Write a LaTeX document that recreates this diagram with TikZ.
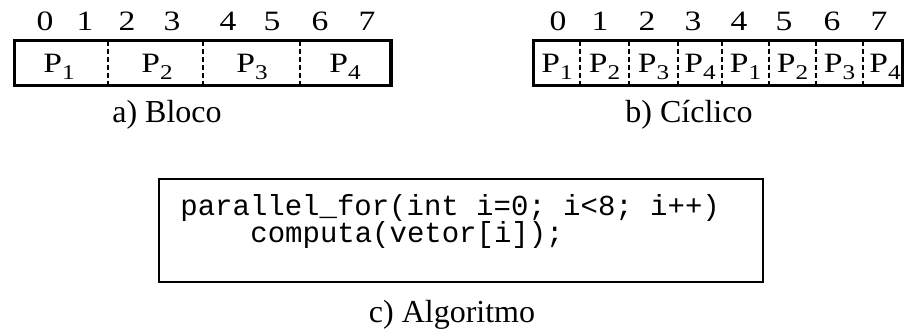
\documentclass[tikz,border=0pt]{standalone}
\usepackage{fontspec}
\setmainfont{Liberation Serif}
\setmonofont{Liberation Mono}
\usetikzlibrary{positioning}

% the cell labels are set wider than they are tall
\newcommand{\wideText}[1]{\scalebox{1.2}[1]{#1}}
\newcommand{\procName}[1]{\wideText{P\raisebox{-3.5pt}{\fontsize{10.5}{11}\selectfont #1}}}

\tikzset{
  idx/.style={inner sep=0pt, anchor=base, font=\fontsize{14}{15}\selectfont},
  proc/.style={inner sep=0pt, anchor=base, font=\fontsize{14}{15}\selectfont},
  caption/.style={inner sep=0pt, anchor=base, font=\fontsize{16}{18}\selectfont},
  code/.style={inner sep=0pt, anchor=base west, font=\ttfamily\fontsize{14.5}{16}\selectfont},
  frame/.style={line width=1.7pt},
  divider/.style={line width=1pt, dash pattern=on 2.5pt off 1.5pt},
}

\begin{document}
\begin{tikzpicture}[x=0.5pt,y=-0.5pt]
    \useasboundingbox (0,0) rectangle (904,329);
    % a) Bloco
    \draw[frame] (14.5,40.5) rectangle (391,85.5);
    \foreach \x in {108,203,300}
        \draw[divider] (\x,40.5) -- (\x,85.5);
    \foreach \n/\x in {0/45,1/85,2/127,3/172,4/228,5/272,6/320,7/367}
        \node[idx] (a\n) at (\x,30) {\wideText{\n}};
    \foreach \p/\x in {1/59,2/157,3/252,4/345}
        \node[proc] (ap\p) at (\x,72) {\procName{\p}};
    \node[caption] (capa) at (167,122) {a) Bloco};
    % b) Ciclico
    \draw[frame] (533.5,40.5) rectangle (903,85.5);
    \foreach \x in {580,629,678,722,769,816,863}
        \draw[divider] (\x,40.5) -- (\x,85.5);
    \foreach \n/\x in {0/558,1/600,2/647,3/693,4/739,5/784,6/832,7/879}
        \node[idx] (b\n) at (\x,30) {\wideText{\n}};
    \foreach \i/\p/\x in {1/1/557,2/2/604.5,3/3/653.5,4/4/700,5/1/745.5,6/2/792.5,7/3/839.5,8/4/885}
        \node[proc] (bp\i) at (\x,72) {\procName{\p}};
    \node[caption] (capb) at (689,122) {b) Cíclico};
    % c) Algoritmo
    \node[draw, line width=0.75pt, minimum width=302pt, minimum height=51.5pt] (codebox) at (461,230.5) {};
    \node[code] (line1) at (180,215) {parallel\_for(int i=0; i<8; i++)};
    \node[code] (line2) at (250,242) {computa(vetor[i]);};
    \node[caption] (capc) at (452,322) {c) Algoritmo};
\end{tikzpicture}
\end{document}
